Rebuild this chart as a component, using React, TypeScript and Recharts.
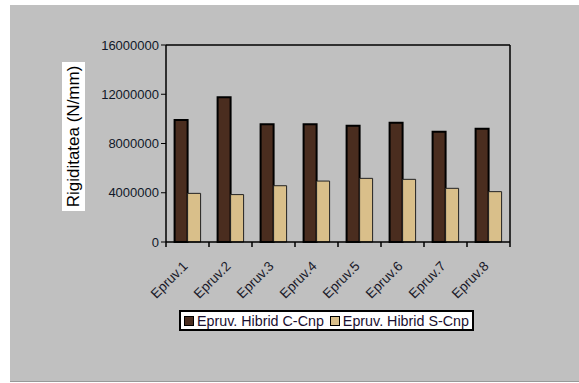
import React from 'react';
import { BarChart, Bar, XAxis, YAxis, Legend, ReferenceLine } from 'recharts';

const categories = ['Epruv.1', 'Epruv.2', 'Epruv.3', 'Epruv.4', 'Epruv.5', 'Epruv.6', 'Epruv.7', 'Epruv.8'];
const hibridC = [9900000, 11750000, 9560000, 9560000, 9450000, 9690000, 8960000, 9200000];
const hibridS = [3950000, 3850000, 4570000, 4950000, 5170000, 5090000, 4360000, 4090000];
const yTicks = [0, 4000000, 8000000, 12000000, 16000000];

const SERIES = [
    { key: 'c', name: 'Epruv. Hibrid C-Cnp', fill: '#4a2d1f', stroke: '#000', width: 2 },
    { key: 's', name: 'Epruv. Hibrid S-Cnp', fill: '#d9bf8a', stroke: '#222', width: 1 },
];

const FONT = 'Arial, "Liberation Sans", sans-serif';

const data = categories.map((name, i) => ({ name, c: hibridC[i], s: hibridS[i] }));

// ticks sit between the categories, labels hang at 45deg under each group
const XTick = (props: any) => {
    const { x, y, payload, index } = props;
    const half = payload?.offset > 0 ? payload.offset : 21.5;
    const last = index === categories.length - 1;
    const lx = x + 1;
    const ly = y + 17;
    return (
        <g>
            <line x1={x - half} x2={x - half} y1={242} y2={247} stroke="#000" strokeWidth={1.5} />
            {last && <line x1={x + half} x2={x + half} y1={242} y2={247} stroke="#000" strokeWidth={1.5} />}
            <text
                x={lx}
                y={ly}
                textAnchor="end"
                fontSize={13.5}
                fontFamily={FONT}
                fill="#1a1a2a"
                transform={`rotate(-45 ${lx} ${ly})`}
            >
                {payload.value}
            </text>
        </g>
    );
};

const YLabel = () => (
    <g>
        <rect x={62} y={62} width={23} height={149} fill="#fff" />
        <text
            x={79}
            y={136.5}
            textAnchor="middle"
            fontSize={17}
            fontFamily={FONT}
            fill="#000"
            transform="rotate(-90 79 136.5)"
        >
            Rigiditatea (N/mm)
        </text>
    </g>
);

const LegendBox = () => (
    <div
        style={{
            display: 'flex',
            alignItems: 'center',
            background: '#fff',
            border: '2px solid #000',
            height: 17,
            padding: '0 3px 0 2px',
            fontFamily: FONT,
            fontSize: 14.3,
            color: '#1a1030',
            whiteSpace: 'nowrap',
        }}
    >
        {SERIES.map((s, i) => (
            <span key={s.key} style={{ display: 'flex', alignItems: 'center', marginLeft: i ? 6 : 1 }}>
                <span
                    style={{
                        display: 'inline-block',
                        width: 8,
                        height: 8,
                        background: s.fill,
                        border: '1px solid #000',
                        marginRight: 3,
                    }}
                />
                {s.name}
            </span>
        ))}
    </div>
);

export default function App() {
    return (
        <div style={{ position: 'absolute', left: 0, top: 0, width: 579, height: 383, background: '#fff' }}>
            <div
                style={{
                    position: 'absolute',
                    left: 10,
                    top: 5,
                    width: 569,
                    height: 376,
                    background: '#c0c0c0',
                    borderBottom: '1px solid #999',
                }}
            />
            <div style={{ position: 'absolute', left: 0, top: 0 }}>
                <BarChart
                    width={579}
                    height={383}
                    data={data}
                    margin={{ top: 45, right: 68, left: 0, bottom: 0 }}
                    barCategoryGap="20%"
                    barGap={0}
                >
                    <XAxis
                        dataKey="name"
                        height={141}
                        axisLine={{ stroke: '#000', strokeWidth: 1.5 }}
                        tickLine={false}
                        tick={<XTick />}
                        interval={0}
                    />
                    <YAxis
                        width={166}
                        domain={[0, 16000000]}
                        ticks={yTicks}
                        interval={0}
                        axisLine={{ stroke: '#000', strokeWidth: 1.5 }}
                        tickLine={{ stroke: '#000' }}
                        tickSize={5}
                        tick={{ fontSize: 13, fontFamily: FONT, fill: '#101828' }}
                        label={{ content: <YLabel /> }}
                    />
                    <YAxis
                        yAxisId="right"
                        orientation="right"
                        width={1}
                        domain={[0, 16000000]}
                        tick={false}
                        tickLine={false}
                        axisLine={{ stroke: '#000', strokeWidth: 1.5 }}
                    />
                    <ReferenceLine y={16000000} stroke="#000" strokeWidth={1.5} />
                    <Legend
                        layout="horizontal"
                        verticalAlign="middle"
                        align="center"
                        content={<LegendBox />}
                        wrapperStyle={{ left: 179, top: 310, width: 'auto', height: 'auto' }}
                    />
                    {SERIES.map((s) => (
                        <Bar
                            key={s.key}
                            dataKey={s.key}
                            name={s.name}
                            fill={s.fill}
                            stroke={s.stroke}
                            strokeWidth={s.width}
                            isAnimationActive={false}
                        />
                    ))}
                </BarChart>
            </div>
        </div>
    );
}
